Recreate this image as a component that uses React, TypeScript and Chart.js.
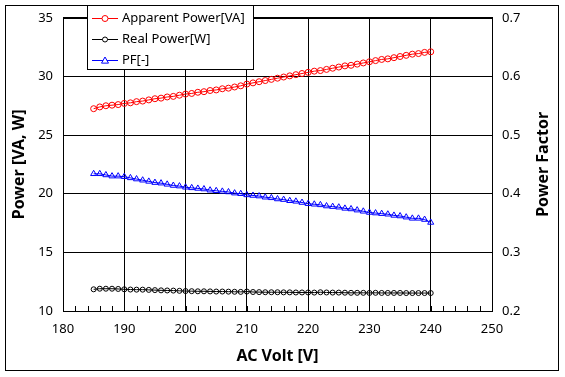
import React, { useEffect, useRef } from "react";
import { Chart, registerables } from "chart.js";

Chart.register(...registerables);

const volts = [
  185, 186, 187, 188, 189, 190, 191, 192, 193, 194, 195, 196, 197, 198, 199, 200,
  201, 202, 203, 204, 205, 206, 207, 208, 209, 210, 211, 212, 213, 214, 215, 216,
  217, 218, 219, 220, 221, 222, 223, 224, 225, 226, 227, 228, 229, 230, 231, 232,
  233, 234, 235, 236, 237, 238, 239, 240,
];

const apparentPower = [
  27.25, 27.4, 27.5, 27.55, 27.6, 27.7, 27.75, 27.85, 27.9, 28.0,
  28.1, 28.15, 28.25, 28.3, 28.4, 28.5, 28.55, 28.65, 28.7, 28.8,
  28.85, 28.95, 29.0, 29.1, 29.2, 29.35, 29.45, 29.55, 29.65, 29.75,
  29.85, 29.95, 30.05, 30.15, 30.25, 30.35, 30.45, 30.5, 30.6, 30.7,
  30.8, 30.9, 30.95, 31.05, 31.15, 31.25, 31.35, 31.45, 31.5, 31.6,
  31.7, 31.8, 31.9, 31.95, 32.05, 32.1,
];

const realPower = [
  11.85, 11.9, 11.9, 11.9, 11.88, 11.85, 11.83, 11.82, 11.82, 11.8,
  11.78, 11.76, 11.75, 11.74, 11.72, 11.7, 11.69, 11.68, 11.68, 11.67,
  11.66, 11.66, 11.65, 11.64, 11.63, 11.66, 11.62, 11.61, 11.6, 11.6,
  11.6, 11.59, 11.59, 11.58, 11.58, 11.58, 11.57, 11.6, 11.58, 11.57,
  11.57, 11.56, 11.55, 11.55, 11.55, 11.54, 11.55, 11.54, 11.54, 11.54,
  11.54, 11.53, 11.53, 11.53, 11.53, 11.53,
];

const powerFactor = [
  0.434, 0.434, 0.432, 0.43, 0.43, 0.429,
  0.427, 0.425, 0.423, 0.421, 0.419, 0.418, 0.416, 0.414, 0.413, 0.411,
  0.41, 0.409, 0.408, 0.406, 0.405, 0.404, 0.403, 0.401, 0.4, 0.398,
  0.397, 0.396, 0.394, 0.393, 0.391, 0.39, 0.388, 0.387, 0.385, 0.383,
  0.382, 0.381, 0.379, 0.378, 0.377, 0.375, 0.374, 0.372, 0.37, 0.368,
  0.367, 0.366, 0.365, 0.363, 0.362, 0.36, 0.358, 0.358, 0.356, 0.351,
];

const seriesLabels = ["Apparent Power[VA]", "Real Power[W]", "PF[-]"];
const xTitle = "AC Volt [V]";
const yTitle = "Power [VA, W]";
const y1Title = "Power Factor";

const FONT = "'Noto Sans', sans-serif";

const decorPlugin = {
  id: "decor",
  beforeDraw(chart: any) {
    const ctx = chart.ctx;
    ctx.save();
    ctx.fillStyle = "#fff";
    ctx.fillRect(0, 0, chart.width, chart.height);
    ctx.restore();
  },
  beforeDatasetsDraw(chart: any) {
    const { ctx, chartArea: a, scales } = chart;
    ctx.save();
    ctx.strokeStyle = "#000";
    ctx.lineWidth = 1;
    ctx.strokeRect(Math.round(a.left) + 0.5, Math.round(a.top) + 0.5, Math.round(a.right - a.left), Math.round(a.bottom - a.top));
    ctx.beginPath();
    for (let v = 180; v <= 250; v += 2) {
      const x = Math.round(scales.x.getPixelForValue(v)) + 0.5;
      ctx.moveTo(x, Math.round(a.bottom));
      ctx.lineTo(x, Math.round(a.bottom) - 5);
    }
    ctx.stroke();
    ctx.restore();
  },
  afterDraw(chart: any) {
    const { ctx } = chart;
    ctx.save();
    ctx.strokeStyle = "#000";
    ctx.lineWidth = 1;
    ctx.strokeRect(5.5, 5.5, 553, 365);
    ctx.fillStyle = "#000";
    ctx.font = `bold 16px ${FONT}`;
    ctx.textAlign = "center";
    ctx.textBaseline = "middle";
    ctx.translate(543, (chart.chartArea.top + chart.chartArea.bottom) / 2);
    ctx.rotate(-Math.PI / 2);
    ctx.fillText(y1Title, 0, 0);
    ctx.restore();

    ctx.save();
    ctx.fillStyle = "#fff";
    ctx.fillRect(87.5, 5.5, 166, 64);
    ctx.strokeStyle = "#000";
    ctx.strokeRect(87.5, 5.5, 166, 64);
    chart.data.datasets.forEach((ds: any, i: number) => {
      const y = 18.5 + i * 21;
      ctx.strokeStyle = ds.borderColor;
      ctx.lineWidth = 1;
      ctx.beginPath();
      ctx.moveTo(92, y);
      ctx.lineTo(118, y);
      ctx.stroke();
      const r = ds.pointRadius;
      ctx.beginPath();
      if (ds.pointStyle === "triangle") {
        ctx.moveTo(105, y - r);
        ctx.lineTo(105 - r, y + r * 0.75);
        ctx.lineTo(105 + r, y + r * 0.75);
        ctx.closePath();
      } else {
        ctx.arc(105, y, r, 0, Math.PI * 2);
      }
      ctx.fillStyle = "#fff";
      ctx.fill();
      ctx.stroke();
      ctx.fillStyle = "#000";
      ctx.font = `13px ${FONT}`;
      ctx.textAlign = "left";
      ctx.textBaseline = "middle";
      ctx.fillText(ds.label, 122, y);
    });
    ctx.restore();
  },
};

export default function App() {
  const canvasRef = useRef<HTMLCanvasElement | null>(null);

  useEffect(() => {
    const canvas = canvasRef.current;
    if (!canvas) return;
    const tickFont = { family: FONT, size: 13 };
    const titleFont = { family: FONT, size: 16, weight: "bold" as const };
    const chart = new Chart(canvas, {
      type: "line",
      data: {
        datasets: [
          {
            label: seriesLabels[0],
            data: volts.map((v, i) => ({ x: v, y: apparentPower[i] })),
            yAxisID: "y",
            borderColor: "#ff0000",
            borderWidth: 1,
            pointStyle: "circle",
            pointRadius: 3,
            pointBorderColor: "#ff0000",
            pointBackgroundColor: "rgba(255,255,255,0)",
            pointBorderWidth: 1,
          },
          {
            label: seriesLabels[1],
            data: volts.map((v, i) => ({ x: v, y: realPower[i] })),
            yAxisID: "y",
            borderColor: "#000000",
            borderWidth: 1,
            pointStyle: "circle",
            pointRadius: 2.5,
            pointBorderColor: "#000000",
            pointBackgroundColor: "rgba(255,255,255,0)",
            pointBorderWidth: 1,
          },
          {
            label: seriesLabels[2],
            data: volts.map((v, i) => ({ x: v, y: powerFactor[i] })),
            yAxisID: "y1",
            borderColor: "#0000ff",
            borderWidth: 1,
            pointStyle: "triangle",
            pointRadius: 3.5,
            pointBorderColor: "#0000ff",
            pointBackgroundColor: "rgba(255,255,255,0)",
            pointBorderWidth: 1,
          },
        ] as any,
      },
      options: {
        responsive: false,
        animation: false,
        devicePixelRatio: 1,
        layout: { padding: { top: 16, left: 0, right: 0, bottom: 0 } },
        plugins: {
          legend: { display: false },
          tooltip: { enabled: false },
        },
        scales: {
          x: {
            type: "linear",
            min: 180,
            max: 250,
            ticks: { stepSize: 10, font: tickFont, color: "#000", padding: 10, maxRotation: 0 },
            grid: { color: "#000", lineWidth: 1, drawTicks: false },
            border: { color: "#000" },
            title: { display: true, text: xTitle, font: titleFont, color: "#000", padding: { top: 0, bottom: 11 } },
            afterFit: (s: any) => {
              s.height = 66;
            },
          },
          y: {
            type: "linear",
            position: "left",
            min: 10,
            max: 35,
            ticks: { stepSize: 5, font: tickFont, color: "#000", padding: 10 },
            grid: { color: "#000", lineWidth: 1, drawTicks: false },
            border: { color: "#000" },
            title: { display: true, text: yTitle, font: titleFont, color: "#000", padding: { top: 10, bottom: 0 } },
            afterFit: (s: any) => {
              s.width = 63;
            },
          },
          y1: {
            type: "linear",
            position: "right",
            min: 0.2,
            max: 0.7,
            ticks: {
              stepSize: 0.1,
              font: tickFont,
              color: "#000",
              padding: 10,
              callback: (v: any) => Number(v).toFixed(1),
            },
            grid: { drawOnChartArea: false, drawTicks: false },
            border: { color: "#000" },
            afterFit: (s: any) => {
              s.width = 73;
            },
          },
        } as any,
      },
      plugins: [decorPlugin],
    });
    return () => chart.destroy();
  }, []);

  return (
    <div style={{ position: "fixed", left: 0, top: 0, width: 565, height: 377, background: "#fff" }}>
      <canvas ref={canvasRef} width={565} height={377} style={{ display: "block" }} />
    </div>
  );
}
